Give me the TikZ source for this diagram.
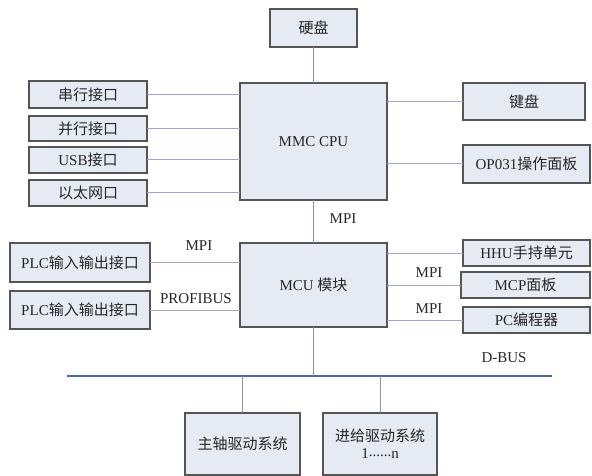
\documentclass[tikz,border=0pt]{standalone}
\usepackage{fontspec}
\setmainfont{Liberation Serif}
\newfontfamily\cjk{Noto Sans CJK SC}
\definecolor{boxfill}{HTML}{E6EAF3}
\definecolor{boxdraw}{HTML}{555555}
\definecolor{conn}{HTML}{A3A3D3}
\definecolor{vconn}{HTML}{8E8EB0}
\definecolor{busc}{HTML}{4A6AB0}
\begin{document}
\begin{tikzpicture}[x=1pt,y=-1pt,
  box/.style={draw=boxdraw,line width=1.3pt,fill=boxfill,inner sep=1pt,outer sep=0pt,
    font=\fontsize{15}{16}\selectfont,align=center,text=black!85},
  wire/.style={draw=conn,line width=1pt},
  vwire/.style={draw=vconn,line width=1pt},
  lab/.style={font=\fontsize{15}{16}\selectfont,inner sep=0pt,text=black!85}]
\useasboundingbox (0,0) rectangle (592,476);
% boxes
\node[box,minimum width=87pt,minimum height=38pt] (hd) at (313.5,28) {\cjk 硬盘};
\node[box,minimum width=147pt,minimum height=117pt] (mmc) at (313.5,141.5) {MMC CPU};
\node[box,minimum width=118pt,minimum height=27pt] (s1) at (88,94.5) {\cjk 串行接口};
\node[box,minimum width=118pt,minimum height=25pt] (s2) at (88,128.5) {\cjk 并行接口};
\node[box,minimum width=118pt,minimum height=26pt] (s3) at (88,160) {USB{\cjk 接口}};
\node[box,minimum width=118pt,minimum height=26pt] (s4) at (88,193) {\cjk 以太网口};
\node[box,minimum width=122pt,minimum height=37pt] (kb) at (524,101.5) {\cjk 键盘};
\node[box,minimum width=127pt,minimum height=38pt] (op) at (526.5,164) {OP031{\cjk 操作面板}};
\node[box,minimum width=147pt,minimum height=84pt] (mcu) at (313.5,285) {MCU {\cjk 模块}};
\node[box,minimum width=140pt,minimum height=39pt] (plc1) at (80,262.5) {PLC{\cjk 输入输出接口}};
\node[box,minimum width=140pt,minimum height=38pt] (plc2) at (80,310) {PLC{\cjk 输入输出接口}};
\node[box,minimum width=127pt,minimum height=26pt] (hhu) at (526.5,253) {HHU{\cjk 手持单元}};
\node[box,minimum width=129pt,minimum height=26pt] (mcp) at (525.5,285) {MCP{\cjk 面板}};
\node[box,minimum width=127pt,minimum height=26pt] (pc) at (526.5,320) {PC{\cjk 编程器}};
\node[box,minimum width=115pt,minimum height=62pt] (sp) at (242.5,444) {\cjk 主轴驱动系统};
\node[box,minimum width=114pt,minimum height=62pt] (fd) at (380,444) {{\cjk 进给驱动系统}\\[1pt]1\raisebox{2.5pt}{......}n};
% bus
\coordinate (busl) at (67,376);
\coordinate (busr) at (552,376);
\draw[busc,line width=2.6pt] (busl) -- (busr);
% connectors
\draw[vwire] (hd.south) -- (mmc.north);
\foreach \n in {s1,s2,s3,s4} \draw[wire] (\n.east) -- (\n.east -| mmc.west);
\foreach \n in {kb,op} \draw[wire] (\n.west -| mmc.east) -- (\n.west);
\draw[vwire] (mmc.south) -- (mcu.north);
\foreach \n in {plc1,plc2} \draw[wire] (\n.east) -- (\n.east -| mcu.west);
\foreach \n in {hhu,mcp,pc} \draw[wire] (\n.west -| mcu.east) -- (\n.west);
\draw[vwire] (mcu.south) -- (mcu.south |- busl);
\draw[vwire] (sp.north |- busl) -- (sp.north);
\draw[vwire] (fd.north |- busl) -- (fd.north);
% labels
\node[lab] (l1) at (343,219) {MPI};
\node[lab] (l2) at (199,246) {MPI};
\node[lab] (l3) at (196,299) {PROFIBUS};
\node[lab] (l4) at (429,273) {MPI};
\node[lab] (l5) at (429,309) {MPI};
\node[lab] (l6) at (504,358) {D-BUS};
\end{tikzpicture}
\end{document}
